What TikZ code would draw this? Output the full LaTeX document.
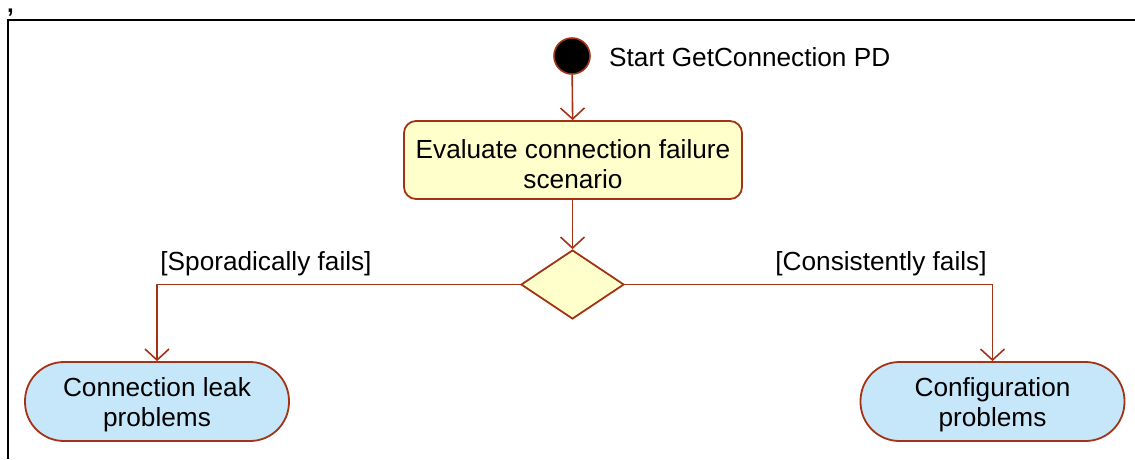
\documentclass[tikz,border=0pt]{standalone}
\usepackage{fontspec}
\setmainfont{Liberation Sans}
\usetikzlibrary{arrows.meta,shapes.geometric}
\definecolor{edge}{RGB}{163,51,20}
\definecolor{actfill}{RGB}{255,255,204}
\definecolor{endfill}{RGB}{198,230,250}
\tikzset{
  flow/.style={draw=edge, line width=1.6pt, -{Straight Barb[length=11pt,width=24pt,line width=1.6pt]}},
  action/.style={draw=edge, fill=actfill, line width=1.8pt, rounded corners=12pt,
    minimum width=338pt, minimum height=78pt, align=center, inner sep=0pt, text height=58pt},
  terminal/.style={draw=edge, fill=endfill, line width=1.8pt, rounded corners=39pt,
    minimum width=264pt, minimum height=79pt, align=center, inner sep=0pt, text height=56pt},
  decision/.style={draw=edge, fill=actfill, line width=1.8pt, diamond, aspect=1.5,
    minimum width=103pt, minimum height=69pt, inner sep=0pt},
  lbl/.style={inner sep=0pt}
}
\begin{document}
\begin{tikzpicture}[x=1pt,y=-1pt,font=\fontsize{26.2}{30}\selectfont]
\useasboundingbox (0,0) rectangle (1135,459);
% outer frame
\node[lbl, font=\fontsize{24}{26}\bfseries, anchor=center] (comma) at (10.5,12.5) {,};
\coordinate (frTL) at (8,20);
\draw[line width=1.5pt] (1135,20) -- (frTL) -- (8,459);
% start node
\node[circle, draw=edge, fill=black, line width=1.6pt, minimum size=36pt, inner sep=0pt] (start) at (572,56) {};
\node[lbl, anchor=west] (startlbl) at (609,57) {Start GetConnection PD};
% action
\node[action] (eval) at (573,160) {Evaluate connection failure\\scenario};
% decision
\node[decision] (dec) at (572.5,284.5) {};
% end states
\node[terminal] (leak) at (157,401.5) {Connection leak\\problems};
\node[terminal] (conf) at (992.5,401.5) {Configuration\\problems};
% connectors
\draw[flow] (start) -- (eval);
\draw[flow] (eval.south -| dec.north) -- (dec.north);
\draw[flow] (dec.west) -| (leak.north);
\draw[flow] (dec.east) -| (conf.north);
% guards
\node[lbl] (g1) at (266,263.5) {[Sporadically fails]};
\node[lbl] (g2) at (881,263.5) {[Consistently fails]};
\end{tikzpicture}
\end{document}
